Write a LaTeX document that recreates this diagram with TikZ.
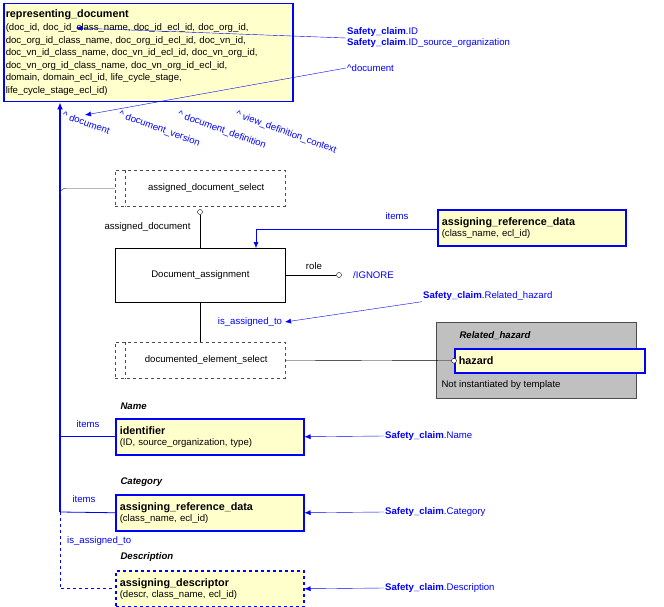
\documentclass[tikz,border=0pt]{standalone}
\usepackage{fontspec}
\setmainfont{Liberation Sans}
\usetikzlibrary{positioning,arrows.meta}
\definecolor{entyellow}{RGB}{255,255,204}
\definecolor{hidgray}{RGB}{192,192,192}
\tikzset{
  ent/.style={draw=blue, line width=1.5pt, fill=entyellow, anchor=north west, align=left, inner sep=3pt, font=\fontsize{9.6}{11}\selectfont},
  sel/.style={draw=black!70, dashed, anchor=north west, minimum width=170pt, minimum height=36pt},
  lbl/.style={text=blue, inner sep=1pt},
  ref/.style={blue, -{Latex[length=6pt,width=5pt]}},
  ring/.style={draw, circle, fill=white, inner sep=0pt, minimum size=5pt},
  ttl/.style={font=\bfseries\itshape\fontsize{9.6}{11}\selectfont},
}
\newcommand{\enttitle}[1]{\textbf{\fontsize{10.8}{12.5}\selectfont #1}}
\begin{document}
\begin{tikzpicture}[x=1pt, y=-1pt, font=\fontsize{9.6}{11}\selectfont]
  \useasboundingbox (0,0) rectangle (664,607);

  % representing_document
  \node[ent, text width=285pt, minimum height=98pt, inner sep=2pt, font=\fontsize{9.6}{12.6}\selectfont] (rep) at (3,3) {\enttitle{representing\_document}\\(doc\_id, doc\_id\_class\_name, doc\_id\_ecl\_id, doc\_org\_id,\\doc\_org\_id\_class\_name, doc\_org\_id\_ecl\_id, doc\_vn\_id,\\doc\_vn\_id\_class\_name, doc\_vn\_id\_ecl\_id, doc\_vn\_org\_id,\\doc\_vn\_org\_id\_class\_name, doc\_vn\_org\_id\_ecl\_id,\\domain, domain\_ecl\_id, life\_cycle\_stage,\\life\_cycle\_stage\_ecl\_id)};
  \node[lbl, anchor=west, align=left] (scid) at (346,38) {\textbf{Safety\_claim}.ID\\\textbf{Safety\_claim}.ID\_source\_organization};
  \coordinate (repin) at (76,28);
  \draw[ref] (scid.west) -- (repin);
  \node[lbl, anchor=west] (updoc) at (346,68) {\^{}document};
  \coordinate (updocin) at (85,115);
  \draw[ref] (updoc.west) -- (updocin);
  \node[lbl, rotate=-20, anchor=west] (r1) at (62,114) {\^{} document};
  \node[lbl, rotate=-20, anchor=west] (r2) at (118,114) {\^{} document\_version};
  \node[lbl, rotate=-20, anchor=west] (r3) at (177,114) {\^{} document\_definition};
  \node[lbl, rotate=-20, anchor=west] (r4) at (235,114) {\^{} view\_definition\_context};

  % selects and assignment
  \node[sel] (ads) at (115,170) {\hspace{12pt}assigned\_document\_select};
  \draw[black!70, dashed] ([xshift=10pt]ads.north west) -- ([xshift=10pt]ads.south west);
  \node[draw, thick, anchor=north west, minimum width=170pt, minimum height=54pt] (da) at (115,248) {Document\_assignment};
  \node[ring] (c1) at (200,212) {};
  \draw (c1) -- (c1 |- da.north);
  \node[anchor=east] (adl) at (194,227) {assigned\_document};
  \node[ring] (c2) at (339,275) {};
  \draw (da.east |- c2) -- (c2);
  \node (role) at (314,266) {role};
  \node[lbl, anchor=west] (ign) at (352,275) {/IGNORE};

  \node[ent, minimum width=188pt, minimum height=36pt, text width=180pt] (ard1) at (437,209) {\enttitle{assigning\_reference\_data}\\(class\_name, ecl\_id)};
  \node[lbl] (it1) at (397,216) {items};
  \coordinate (bend1) at (256,229);
  \draw[ref] (ard1.west |- bend1) -- (bend1) -- (bend1 |- da.north);

  \node[sel] (des) at (115,342) {\hspace{12pt}documented\_element\_select};
  \draw[black!70, dashed] ([xshift=10pt]des.north west) -- ([xshift=10pt]des.south west);
  \draw (c1 |- da.south) -- (c1 |- des.north);
  \node[lbl] (iat) at (250,322) {is\_assigned\_to};
  \node[lbl, anchor=west] (scrh) at (422,296) {\textbf{Safety\_claim}.Related\_hazard};
  \coordinate (rhin) at (285,322);
  \draw[ref] (scrh.south west) -- (rhin);

  % Related_hazard
  \node[draw=black!70, fill=hidgray, anchor=north west, minimum width=200pt, minimum height=76pt] (rh) at (436,322) {};
  \node[anchor=west, ttl] (rht) at (456,336) {Related\_hazard};
  \node[ent, minimum width=190pt, minimum height=24pt, text width=182pt] (hz) at (454,348) {\enttitle{hazard}};
  \node[anchor=west] (nit) at (438,385) {Not instantiated by template};
  \node[ring] (c3) at (hz.west) {};
  \draw (des.east) -- (c3);

  % lower entities
  \node[anchor=west, ttl] (nm) at (117,406) {Name};
  \node[ent, minimum width=188pt, minimum height=36pt, text width=180pt] (idf) at (115,418) {\enttitle{identifier}\\(ID, source\_organization, type)};
  \node[anchor=west, ttl] (cat) at (117,482) {Category};
  \node[ent, minimum width=188pt, minimum height=36pt, text width=180pt] (ard2) at (115,494) {\enttitle{assigning\_reference\_data}\\(class\_name, ecl\_id)};
  \node[anchor=west, ttl] (dsc) at (117,557) {Description};
  \node[ent, dashed, minimum width=188pt, minimum height=36pt, text width=180pt] (adsc) at (115,570) {\enttitle{assigning\_descriptor}\\(descr, class\_name, ecl\_id)};

  \node[lbl, anchor=west] (scn) at (384,436) {\textbf{Safety\_claim}.Name};
  \node[lbl, anchor=west] (scc) at (384,512) {\textbf{Safety\_claim}.Category};
  \node[lbl, anchor=west] (scd) at (384,588) {\textbf{Safety\_claim}.Description};
  \draw[ref] (scn.west) -- (idf.east);
  \draw[ref] (scc.west) -- (ard2.east);
  \draw[ref] (scd.west) -- (adsc.east);

  % trunk to representing_document
  \coordinate (tr) at (60,512);
  \draw[blue, very thick, -{Latex[length=7pt,width=6pt]}] (tr) -- (tr |- rep.south);
  \draw[blue, thick] (idf.west) -- (idf.west -| tr);
  \draw[blue, thick] (ard2.west) -- (tr);
  \draw[blue, thick, dashed] (tr) -- (tr |- adsc.west) -- (adsc.west);
  \draw[black!80, rounded corners=6pt] (ads.west) -- (ads.west -| tr) -- ([yshift=-8pt]ads.west -| tr);
  \node[lbl] (it2) at (88,424) {items};
  \node[lbl] (it3) at (84,499) {items};
  \node[lbl, anchor=west] (iat2) at (66,541) {is\_assigned\_to};
\end{tikzpicture}
\end{document}
